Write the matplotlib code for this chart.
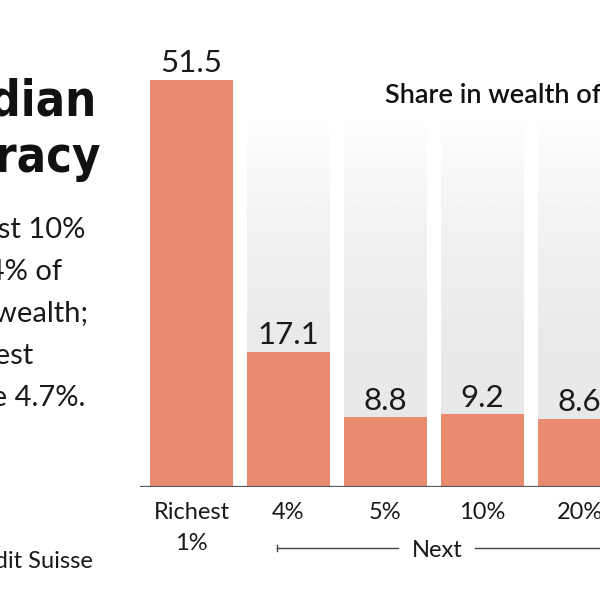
import numpy as np
import matplotlib.pyplot as plt

# data
groups = ['Richest\n1%', '4%', '5%', '10%', '20%']
shares = [51.5, 17.1, 8.8, 9.2, 8.6]

headline = ['The Indian', 'plutocracy']
blurb = ['The richest 10%', 'own 77.4% of', "the country's wealth;", 'the poorest', '60% share 4.7%.']
source = 'Source: Credit Suisse'
title = 'Share in wealth of population (%)'

W, H = 600, 600
bar_color = '#e98b6f'

plt.rcParams['font.family'] = ['Lato', 'DejaVu Sans']

fig = plt.figure(figsize=(6, 6), dpi=100)
fig.patch.set_facecolor('white')

# axes placed so that one category step is ~97 px and 1 unit ~7.9 px
step_px = 97.0
unit_px = 7.9
x0_px = 191.5      # centre of first bar
base_px = 487.0    # baseline (from top)
left_px = 140.0
ax = fig.add_axes([left_px / W, (H - base_px) / H, (W - left_px) / W, base_px / H])
xmin = (left_px - x0_px) / step_px
xmax = (W - x0_px) / step_px
ymax = base_px / unit_px

x = np.arange(len(groups))
bw = 83 / step_px

# soft grey columns behind the bars
top = (base_px - 110) / unit_px
yy = np.linspace(top, 0, 200)
shade = np.interp(yy, [0, 19, 34, top], [0.905, 0.915, 0.95, 1.0])
grad = shade[:, None] * np.ones((1, 2))
for xi in x:
    ax.imshow(grad, extent=(xi - bw / 2, xi + bw / 2, 0, top), cmap='gray',
              vmin=0, vmax=1, aspect='auto', zorder=0, interpolation='bilinear')

bars = ax.bar(x, shares, width=bw, color=bar_color, zorder=2)
ax.bar_label(bars, labels=[f'{v:.1f}' for v in shares], padding=2,
             fontsize=22.5, color='#1a1a1a')

ax.axhline(0, color='#5a5a5a', lw=1.6, zorder=3)
ax.set_xlim(xmin, xmax)
ax.set_ylim(0, ymax)
for s in ax.spines.values():
    s.set_visible(False)
ax.set_yticks([])
ax.set_xticks(x, groups)
ax.tick_params(axis='x', length=0, pad=11, labelsize=17, labelcolor='#1a1a1a')
for lab in ax.get_xticklabels():
    lab.set_linespacing(1.55)
ax.set_facecolor('none')

# "Next" bracket under the bars
tr = ax.get_xaxis_transform()
yb = -(548 - base_px) / base_px
xl = (277 - x0_px) / step_px
ax.plot([xl, (398 - x0_px) / step_px], [yb, yb], color='#444444', lw=1.0,
        transform=tr, clip_on=False)
ax.plot([xl, xl], [yb - 0.006, yb + 0.006], color='#444444', lw=1.0,
        transform=tr, clip_on=False)
ax.plot([(475 - x0_px) / step_px, 5.5], [yb, yb], color='#444444', lw=1.0,
        transform=tr, clip_on=False)
ax.text((437 - x0_px) / step_px, -(557 - base_px) / base_px, 'Next',
        transform=tr, ha='center', va='baseline', fontsize=17, color='#1a1a1a')


def ftext(xp, yp, s, **kw):
    fig.text(xp / W, 1 - yp / H, s, va='baseline', **kw)


ftext(385, 103, title, ha='left', fontsize=19.5, fontweight='semibold', color='#111111')

for line, xr, yp in zip(headline, [96, 101], [115, 172]):
    ftext(xr, yp, line, ha='right', fontsize=35, fontweight='bold',
          fontstretch='condensed', family=['DejaVu Sans'], color='#111111')

right_edges = [85, 62, 88, 33, 85]
for i, (line, xr) in enumerate(zip(blurb, right_edges)):
    ftext(xr, 238 + 42 * i, line, ha='right', fontsize=21, color='#1a1a1a')

ftext(93, 568, source, ha='right', fontsize=17, color='#1a1a1a')

fig.savefig('out.png', dpi=100)
